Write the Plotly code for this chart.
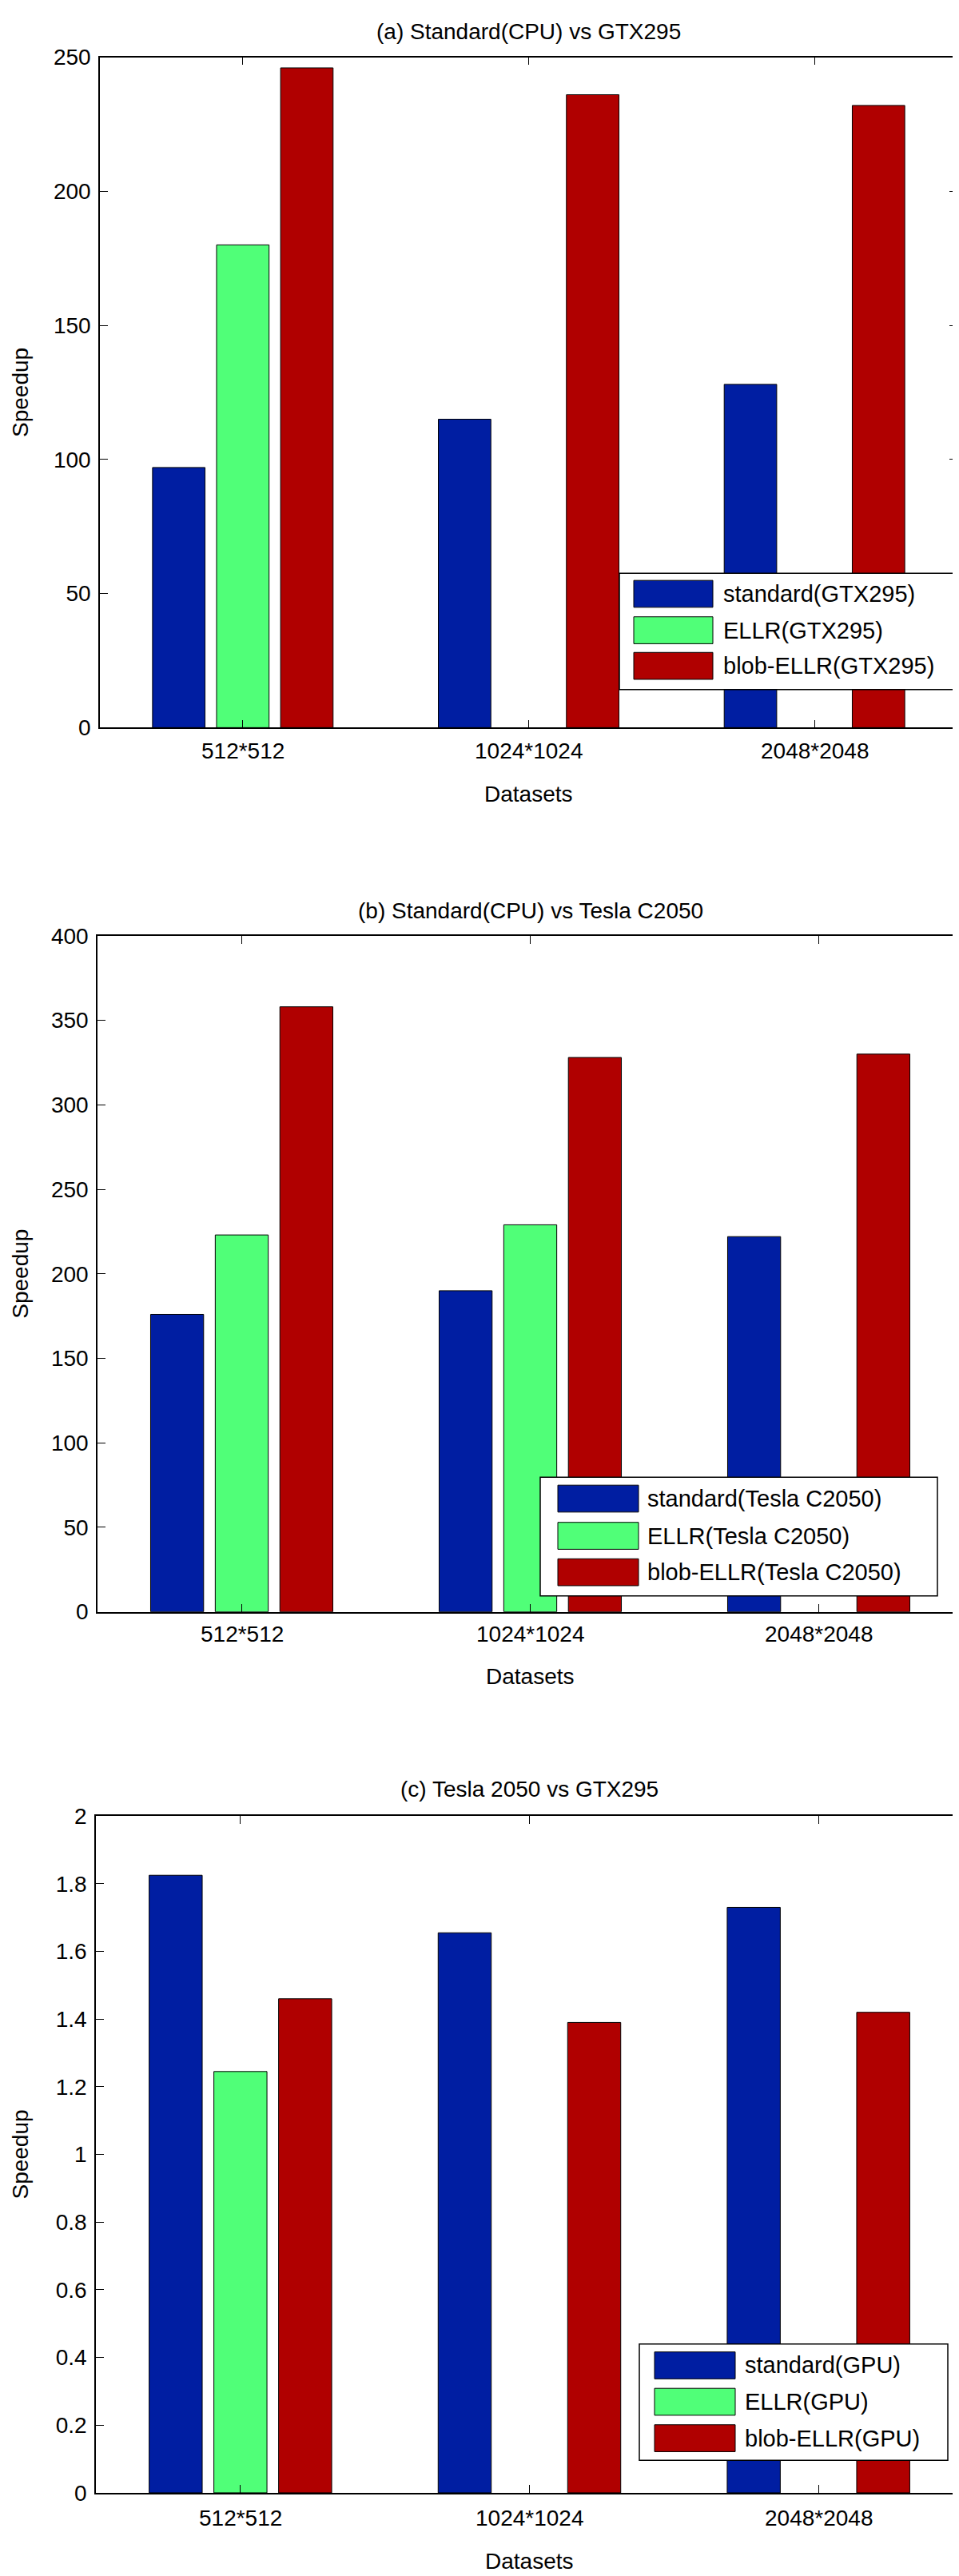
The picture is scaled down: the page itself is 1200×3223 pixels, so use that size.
import plotly.graph_objects as go

W, H = 1200, 3223
FONT = "Liberation Sans, Arial, sans-serif"

# ---------------- data ----------------
datasets = ["512*512", "1024*1024", "2048*2048"]
series_colors = ["#001EA2", "#50FF78", "#B00000"]

titles = ["(a) Standard(CPU) vs GTX295",
          "(b) Standard(CPU) vs Tesla C2050",
          "(c) Tesla 2050 vs GTX295"]

names_a = ["standard(GTX295)", "ELLR(GTX295)", "blob-ELLR(GTX295)"]
standard_a = [97, 115, 128]
ellr_a = [180, None, None]
blob_a = [246, 236, 232]

names_b = ["standard(Tesla C2050)", "ELLR(Tesla C2050)", "blob-ELLR(Tesla C2050)"]
standard_b = [176, 190, 222]
ellr_b = [223, 229, None]
blob_b = [358, 328, 330]

names_c = ["standard(GPU)", "ELLR(GPU)", "blob-ELLR(GPU)"]
standard_c = [1.825, 1.655, 1.73]
ellr_c = [1.245, None, None]
blob_c = [1.46, 1.39, 1.42]

yticks_a = [0, 50, 100, 150, 200, 250]
yticks_b = [0, 50, 100, 150, 200, 250, 300, 350, 400]
yticks_c = [0, 0.2, 0.4, 0.6, 0.8, 1, 1.2, 1.4, 1.6, 1.8, 2]

# ---------------- layout geometry (pixels) ----------------
panels = [
    dict(x0=117, x1=1190, ytop=49, ybot=896, title_y=17, tick_y=925, xlab_y=980,
         leg=dict(x0=767, x1=1189, y0=701, y1=848, sw0=785, sw1=884, tx=895,
                  rows=[727, 773, 818])),
    dict(x0=114, x1=1197, ytop=1159, ybot=2013, title_y=1127, tick_y=2041, xlab_y=2095,
         leg=dict(x0=668, x1=1165, y0=1843, y1=1993, sw0=690, sw1=791, tx=800,
                  rows=[1870, 1917, 1963])),
    dict(x0=112, x1=1197, ytop=2271, ybot=3126, title_y=2237, tick_y=3158, xlab_y=3212,
         leg=dict(x0=792, x1=1178, y0=2938, y1=3085, sw0=811, sw1=912, tx=922,
                  rows=[2965, 3011, 3057])),
]

all_series = [
    (names_a, [standard_a, ellr_a, blob_a], yticks_a),
    (names_b, [standard_b, ellr_b, blob_b], yticks_b),
    (names_c, [standard_c, ellr_c, blob_c], yticks_c),
]


def px(x):
    return x / W


def py(y):
    return 1 - y / H


fig = go.Figure()
shapes = []
annotations = []

for i, (panel, (names, vals, yt)) in enumerate(zip(panels, all_series)):
    sfx = "" if i == 0 else str(i + 1)
    for name, v, col in zip(names, vals, series_colors):
        fig.add_trace(go.Bar(
            x=datasets, y=v, name=name, showlegend=False,
            marker=dict(color=col, line=dict(color="black", width=1)),
            xaxis="x" + sfx, yaxis="y" + sfx,
        ))
    axis_common = dict(
        showline=True, linecolor="black", linewidth=1.5, mirror="ticks",
        ticks="inside", ticklen=10, tickcolor="black", tickwidth=1,
        showgrid=False, zeroline=False,
        tickfont=dict(family=FONT, size=28, color="black"),
    )
    fig.update_layout(**{
        "xaxis" + sfx: dict(axis_common, domain=[px(panel["x0"]), px(panel["x1"])],
                            anchor="y" + sfx, range=[-0.5, 2.5], type="category",
                            showticklabels=False),
        "yaxis" + sfx: dict(axis_common, domain=[py(panel["ybot"]), py(panel["ytop"])],
                            anchor="x" + sfx, range=[yt[0], yt[-1]], tickvals=yt,
                            ticktext=[("%g" % t) for t in yt], ticklabelstandoff=4),
    })
    cx = (panel["x0"] + panel["x1"]) / 2
    # title
    annotations.append(dict(x=px(cx), y=py(panel["title_y"]), xref="paper", yref="paper",
                            text=titles[i], showarrow=False,
                            font=dict(family=FONT, size=28, color="black"),
                            xanchor="center", yanchor="middle"))
    # x tick labels
    for k, d in enumerate(datasets):
        annotations.append(dict(x=d, y=py(panel["tick_y"]), xref="x" + sfx, yref="paper",
                                text=d, showarrow=False,
                                font=dict(family=FONT, size=28, color="black"),
                                xanchor="center", yanchor="middle"))
    # x axis label
    annotations.append(dict(x=px(cx), y=py(panel["xlab_y"]), xref="paper", yref="paper",
                            text="Datasets", showarrow=False,
                            font=dict(family=FONT, size=28, color="black"),
                            xanchor="center", yanchor="middle"))
    # y axis label
    annotations.append(dict(x=px(18), y=py((panel["ytop"] + panel["ybot"]) / 2),
                            xref="paper", yref="paper", text="Speedup", showarrow=False,
                            textangle=-90,
                            font=dict(family=FONT, size=28, color="black"),
                            xanchor="center", yanchor="middle"))
    # legend box
    lg = panel["leg"]
    shapes.append(dict(type="rect", xref="paper", yref="paper",
                       x0=px(lg["x0"]), x1=px(lg["x1"]), y0=py(lg["y1"]), y1=py(lg["y0"]),
                       line=dict(color="black", width=1.5), fillcolor="white", layer="above"))
    for name, col, ry in zip(names, series_colors, lg["rows"]):
        shapes.append(dict(type="rect", xref="paper", yref="paper",
                           x0=px(lg["sw0"]), x1=px(lg["sw1"]),
                           y0=py(ry + 17), y1=py(ry - 17),
                           line=dict(color="black", width=1), fillcolor=col, layer="above"))
        annotations.append(dict(x=px(lg["tx"]), y=py(ry), xref="paper", yref="paper",
                                text=name, showarrow=False,
                                font=dict(family=FONT, size=29, color="black"),
                                xanchor="left", yanchor="middle"))

fig.update_layout(
    width=W, height=H,
    margin=dict(l=0, r=0, t=0, b=0),
    paper_bgcolor="white", plot_bgcolor="white",
    barmode="group", bargap=0.328, bargroupgap=0.18,
    shapes=shapes, annotations=annotations,
    showlegend=False,
)

fig.write_html("out.html")
